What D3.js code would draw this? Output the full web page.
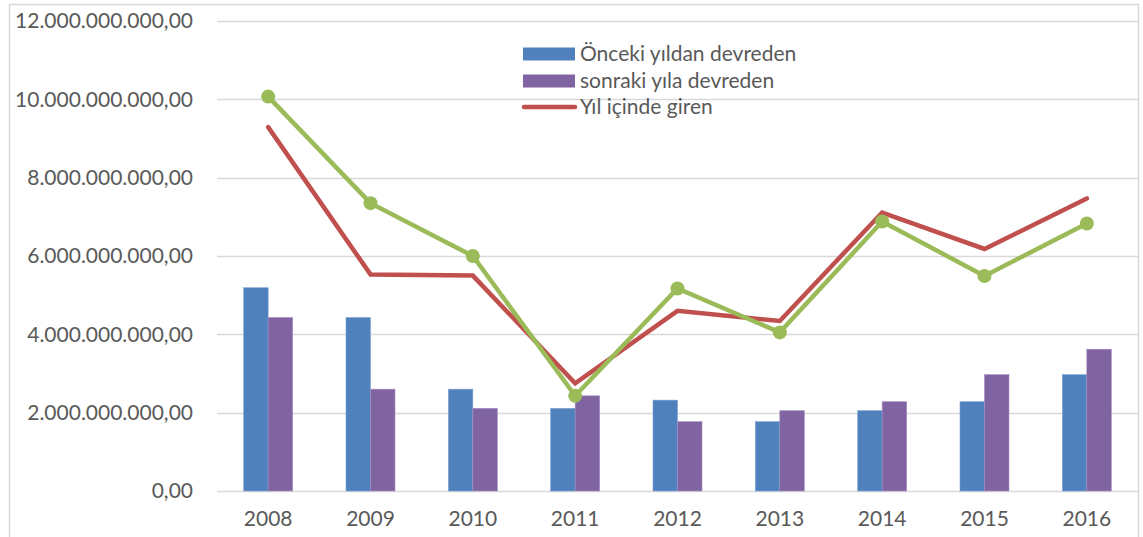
<!DOCTYPE html>
<html><head><meta charset="utf-8">
<script src="https://cdn.jsdelivr.net/npm/d3@7"></script>
<style>body{margin:0;background:#fff}svg{display:block}text{font-family:Lato,"Open Sans",sans-serif;fill:#595959}</style>
</head><body>
<script>
const years = ["2008","2009","2010","2011","2012","2013","2014","2015","2016"];
const onceki = [5.19e9,4.43e9,2.60e9,2.11e9,2.32e9,1.77e9,2.05e9,2.28e9,2.97e9];
const sonraki = [4.43e9,2.60e9,2.11e9,2.43e9,1.77e9,2.05e9,2.28e9,2.97e9,3.62e9];
const yilIcinde = [9.29e9,5.53e9,5.50e9,2.75e9,4.60e9,4.34e9,7.11e9,6.18e9,7.47e9];
const diger = [10.07e9,7.35e9,6.00e9,2.43e9,5.17e9,4.05e9,6.88e9,5.49e9,6.83e9];
const yTicks = [0,2e9,4e9,6e9,8e9,10e9,12e9];
const legendLabels = ["Önceki yıldan devreden","sonraki yıla devreden","Yıl içinde giren"];

const W=1143,H=537;
const svg=d3.select("body").append("svg").attr("width",W).attr("height",H);
// frame
svg.append("rect").attr("x",9.5).attr("y",4.5).attr("width",1129).attr("height",H+10)
  .attr("fill","none").attr("stroke","#D9D9D9").attr("stroke-width",1.5);

const x=d3.scaleBand().domain(years).range([217,1138]);
const y=d3.scaleLinear().domain([0,12e9]).range([491,21]);
const fmt=v=>{const s=d3.format(",.2f")(v);return s.replace(/,/g,"#").replace(".",",").replace(/#/g,".");};

// gridlines
svg.append("g").selectAll("line").data(yTicks).join("line")
  .attr("x1",217).attr("x2",1138).attr("y1",d=>Math.round(y(d))+0.5).attr("y2",d=>Math.round(y(d))+0.5)
  .attr("stroke","#D9D9D9").attr("stroke-width",1.5);
// y labels
const yAxis=d3.axisLeft(y).tickValues(yTicks).tickFormat(fmt).tickSize(0).tickPadding(0);
const gy=svg.append("g").attr("transform","translate(193,0)").call(yAxis);
gy.select(".domain").remove();
gy.selectAll("text").attr("font-size",21).attr("fill","#595959").style("font-family","Lato");
// x labels
const xAxis=d3.axisBottom(x).tickSize(0).tickPadding(0);
const gx=svg.append("g").attr("transform","translate(0,511)").call(xAxis);
gx.select(".domain").remove();
gx.selectAll("text").attr("font-size",21).attr("fill","#595959").attr("dy","0.71em").style("font-family","Lato");

// bars
const bw=24.5;
const bars=svg.append("g");
bars.selectAll(".b1").data(years).join("rect").attr("class","b1")
  .attr("x",d=>x(d)+x.bandwidth()/2-bw).attr("width",bw)
  .attr("y",(d,i)=>y(onceki[i])).attr("height",(d,i)=>y(0)-y(onceki[i]))
  .attr("fill","#4F81BD").attr("stroke","#7FA3D4").attr("stroke-width",0.6);
bars.selectAll(".b2").data(years).join("rect").attr("class","b2")
  .attr("x",d=>x(d)+x.bandwidth()/2).attr("width",bw)
  .attr("y",(d,i)=>y(sonraki[i])).attr("height",(d,i)=>y(0)-y(sonraki[i]))
  .attr("fill","#8064A2").attr("stroke","#A38DC0").attr("stroke-width",0.6);

const cx=d=>x(d)+x.bandwidth()/2;
const line=d3.line().x((d,i)=>cx(years[i])).y(d=>y(d));
svg.append("path").datum(yilIcinde).attr("d",line).attr("fill","none")
  .attr("stroke","#C0504D").attr("stroke-width",4.5).attr("stroke-linecap","round").attr("stroke-linejoin","miter");
svg.append("path").datum(diger).attr("d",line).attr("fill","none")
  .attr("stroke","#9BBB59").attr("stroke-width",4.5).attr("stroke-linecap","round");
svg.append("g").selectAll("circle").data(diger).join("circle")
  .attr("cx",(d,i)=>cx(years[i])).attr("cy",d=>y(d)).attr("r",7).attr("fill","#9BBB59");

// legend
const lg=svg.append("g");
const ly=[54,81,107];
lg.append("rect").attr("x",523).attr("y",ly[0]-6.5).attr("width",52).attr("height",13).attr("fill","#4F81BD");
lg.append("rect").attr("x",523).attr("y",ly[1]-6.5).attr("width",52).attr("height",13).attr("fill","#8064A2");
lg.append("line").attr("x1",524).attr("x2",575).attr("y1",ly[2]).attr("y2",ly[2])
  .attr("stroke","#C0504D").attr("stroke-width",4.5).attr("stroke-linecap","round");
lg.selectAll("text").data(legendLabels).join("text")
  .attr("x",580).attr("y",(d,i)=>ly[i]).attr("dy","0.35em").attr("font-size",21).text(d=>d);
</script>
</body></html>
